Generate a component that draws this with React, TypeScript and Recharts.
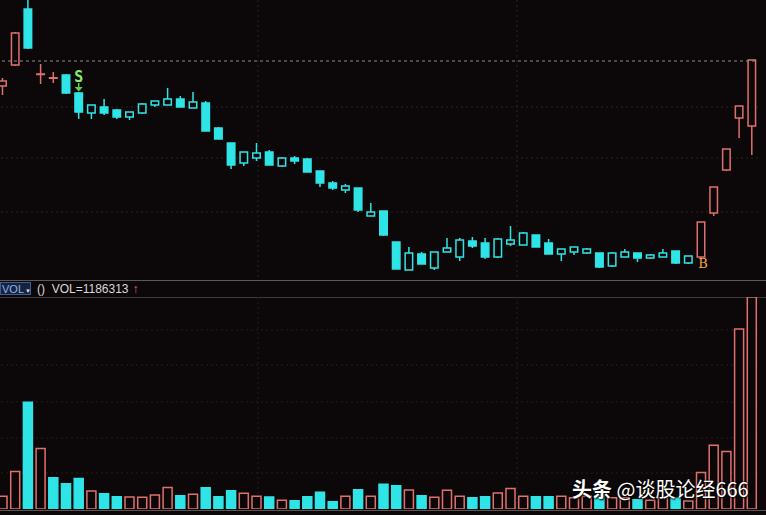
import React from 'react';
import { Bar, BarChart, CartesianGrid, Cell, ReferenceLine, XAxis, YAxis } from 'recharts';

const BG = '#0c0809';
const RED = '#e0706e';
const CYAN = '#2fe4e6';

// daily OHLC
const open = [
  21.4, 23.5, 29.1, 22.55, 22.2, 22.5, 20.7, 18.7, 19.3, 19.0,
  18.3, 18.7, 19.5, 19.5, 20.1, 19.2, 19.7, 17.2, 15.7, 13.7,
  14.2, 14.8, 13.4, 14.2, 14.1, 12.9, 11.7, 11.0, 11.2, 8.4,
  8.9, 5.8, 3.0, 4.6, 3.2, 4.8, 4.3, 5.9, 5.7, 4.3,
  5.6, 5.5, 6.5, 5.7, 4.6, 4.8, 4.7, 4.7, 3.4, 4.3,
  4.7, 4.2, 4.3, 4.9, 3.7, 4.3, 8.7, 13.0, 18.2, 17.4,
];
const high = [
  22.2, 26.8, 30.0, 23.6, 22.8, 22.6, 20.8, 19.5, 20.1, 19.1,
  18.8, 19.7, 19.9, 21.2, 20.4, 20.8, 19.9, 17.3, 15.7, 14.8,
  15.7, 15.0, 14.3, 14.4, 14.2, 12.9, 11.9, 11.6, 11.2, 9.7,
  8.9, 5.8, 5.3, 4.8, 4.8, 6.2, 6.2, 6.3, 6.2, 6.2,
  7.4, 6.8, 6.5, 6.1, 5.1, 5.3, 5.2, 4.7, 4.8, 5.1,
  4.7, 4.6, 5.1, 4.9, 4.4, 7.8, 11.3, 15.1, 19.4, 24.0,
];
const low = [
  20.5, 23.4, 25.1, 21.6, 21.7, 20.6, 18.1, 18.1, 18.5, 18.1,
  18.0, 18.6, 19.3, 19.5, 19.3, 19.2, 16.9, 16.1, 13.1, 13.4,
  13.9, 13.5, 13.3, 13.6, 12.8, 11.3, 11.0, 10.7, 8.8, 8.4,
  6.4, 3.1, 3.0, 3.6, 3.0, 4.8, 3.9, 5.2, 4.1, 4.2,
  5.4, 5.5, 5.3, 4.6, 3.9, 4.5, 4.6, 3.2, 3.3, 4.3,
  3.8, 4.1, 4.3, 3.6, 3.6, 4.2, 8.4, 12.9, 16.2, 14.5,
];
const close = [
  21.9, 26.7, 25.2, 22.6, 22.2, 20.7, 18.8, 19.5, 18.7, 18.3,
  18.8, 19.6, 19.9, 20.1, 19.3, 19.8, 16.9, 16.1, 13.5, 14.8,
  14.7, 13.5, 14.2, 13.9, 12.8, 11.7, 11.2, 11.4, 9.0, 8.8,
  6.5, 3.1, 4.7, 3.6, 4.8, 5.2, 6.0, 5.4, 4.3, 6.1,
  6.0, 6.7, 5.3, 4.6, 5.1, 5.3, 5.1, 3.3, 4.7, 4.8,
  4.2, 4.5, 4.7, 3.7, 4.4, 7.8, 11.3, 15.1, 19.4, 24.0,
];
const volume = [
  70800, 210300, 596700, 338500, 174600, 141100, 171200, 100400, 85300, 68600,
  66900, 65300, 78100, 121000, 74200, 82000, 118800, 68600, 102100, 87600,
  70800, 66900, 48500, 46300, 68600, 93100, 40700, 70800, 107600, 70800,
  137800, 129900, 106000, 74200, 65300, 104300, 70800, 63000, 68600, 89200,
  115400, 70800, 68600, 68600, 70800, 63000, 70800, 74200, 63000, 63000,
  51900, 48500, 63000, 59700, 44600, 204700, 356900, 321800, 1007700, 1186313,
];

const SELL_AT = 6; // "S" signal candle
const BUY_AT = 55; // "B" signal candle
const LEVEL = 23.9;
const LAST_VOL = 1186313;

const rows = open.map((o, i) => ({
  day: i + 1,
  open: o,
  high: high[i],
  low: low[i],
  close: close[i],
  volume: volume[i],
}));

function volumeUp(i: number) {
  if (close[i] !== open[i]) return close[i] > open[i];
  return i === 0 || close[i] >= close[i - 1];
}

function Candle(props: any) {
  const { x, y, width, height, payload } = props;
  const i = payload.day - 1;
  const { open: o, close: c, high: h, low: l } = payload;
  const top = Math.min(y, y + height);
  const ppu = Math.abs(height) / (h - l);
  const yOf = (p: number) => top + (h - p) * ppu;
  const up = c >= o;
  const color = i >= BUY_AT ? RED : i >= SELL_AT ? CYAN : up ? RED : CYAN;
  const cx = x + width / 2;
  const bTop = yOf(Math.max(o, c));
  const bBot = yOf(Math.min(o, c));

  return (
    <g>
      <line x1={cx} x2={cx} y1={top} y2={top + Math.abs(height)} stroke={color} strokeWidth={1.5} />
      {bBot - bTop < 1.5 ? (
        <line x1={x} x2={x + width} y1={(bTop + bBot) / 2} y2={(bTop + bBot) / 2} stroke={color} strokeWidth={2} />
      ) : (
        <rect
          x={x + 0.75}
          y={bTop}
          width={width - 1.5}
          height={bBot - bTop}
          fill={up ? BG : color}
          stroke={color}
          strokeWidth={1.5}
        />
      )}
      {i === SELL_AT && (
        <g>
          <text x={cx} y={top - 10} textAnchor="middle" fontSize={15} fontWeight="bold" fill="#86f06a" fontFamily="DejaVu Sans Mono">
            S
          </text>
          <line x1={cx} x2={cx} y1={top - 9} y2={top - 3} stroke="#5fd04a" strokeWidth={1.5} />
          <path d={`M${cx - 4},${top - 5} L${cx + 4},${top - 5} L${cx},${top - 0.5} Z`} fill="#5fd04a" />
        </g>
      )}
      {i === BUY_AT && (
        <text x={cx + 2} y={bBot + 11} textAnchor="middle" fontSize={13} fill="#f5a443" fontFamily="DejaVu Serif">
          B
        </text>
      )}
    </g>
  );
}

export default function App() {
  return (
    <div style={{ position: 'relative', width: 766, height: 515, background: BG, overflow: 'hidden' }}>
      <style>{'body{margin:0}'}</style>

      <div style={{ position: 'absolute', left: -4, top: 0 }}>
        <BarChart width={762} height={281} data={rows} margin={{ top: 0, right: 0, bottom: 0, left: 0 }} barSize={9}>
          <CartesianGrid stroke="#2a2324" strokeDasharray="2 3" horizontalPoints={[107, 158, 212]} verticalPoints={[262, 521]} />
          <XAxis dataKey="day" hide />
          <YAxis domain={[1.9, 30]} hide />
          <ReferenceLine y={LEVEL} stroke="#8a8a8a" strokeDasharray="3 3" />
          <Bar dataKey={(d: any) => [d.low, d.high]} shape={<Candle />} isAnimationActive={false} />
        </BarChart>
      </div>

      <div style={{ position: 'absolute', left: 0, top: 280, width: 766, height: 1, background: '#5a5a5a' }} />
      <div style={{ position: 'absolute', left: 0, top: 297, width: 766, height: 1, background: '#3e3a3a' }} />
      <div
        style={{
          position: 'absolute',
          left: 0,
          top: 282,
          width: 31,
          height: 13,
          border: '1px solid #3f5f8f',
          background: '#142440',
          color: '#8fb4ec',
          fontFamily: 'Liberation Sans, Arial, sans-serif',
          fontSize: 11,
          lineHeight: '13px',
          whiteSpace: 'nowrap',
          boxSizing: 'border-box',
          paddingLeft: 1,
        }}
      >
        VOL<span style={{ fontSize: 6, color: '#dde', marginLeft: 1 }}>▼</span>
      </div>
      <div
        style={{
          position: 'absolute',
          left: 37,
          top: 282,
          color: '#d8d8d8',
          fontFamily: 'Liberation Sans, Arial, sans-serif',
          fontSize: 12,
          lineHeight: '14px',
          whiteSpace: 'nowrap',
        }}
      >
        ()&nbsp; VOL={LAST_VOL}
        <span style={{ color: RED, marginLeft: 4 }}>↑</span>
      </div>

      <div style={{ position: 'absolute', left: -4, top: 297 }}>
        <BarChart width={762} height={212} data={rows} margin={{ top: 0, right: 0, bottom: 0, left: 0 }} barSize={9}>
          <CartesianGrid stroke="#221d1e" strokeDasharray="2 3" horizontalPoints={[33, 68, 105, 141, 176]} verticalPoints={[262, 521]} />
          <XAxis dataKey="day" hide />
          <YAxis domain={[0, LAST_VOL]} hide />
          <Bar dataKey="volume" isAnimationActive={false} strokeWidth={1.5}>
            {rows.map((_, i) => (
              <Cell key={i} fill={volumeUp(i) ? BG : CYAN} stroke={volumeUp(i) ? RED : CYAN} />
            ))}
          </Bar>
        </BarChart>
      </div>
      <div style={{ position: 'absolute', left: 0, top: 510, width: 766, height: 1, background: '#5a5656' }} />

      <div
        style={{
          position: 'absolute',
          left: 572,
          top: 476,
          color: '#ffffff',
          fontFamily: '"Noto Sans CJK SC", sans-serif',
          fontSize: 20,
          lineHeight: '26px',
          whiteSpace: 'nowrap',
          textShadow: '0 0 2px #000, 1px 1px 2px #000',
        }}
      >
        <span style={{ fontWeight: 'bold' }}>头条</span> @谈股论经666
      </div>
    </div>
  );
}
